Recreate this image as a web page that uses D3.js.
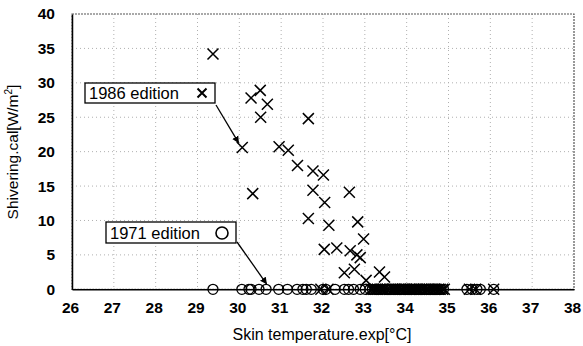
<!DOCTYPE html>
<html>
<head>
<meta charset="utf-8">
<script src="https://cdn.jsdelivr.net/npm/d3@7"></script>
<style>
  body { margin: 0; background: #fff; }
  text { font-family: "Liberation Sans", Arial, sans-serif; fill: #000; }
</style>
</head>
<body>
<script>
// 1986 edition (crosses)
var crossX = [29.37, 30.07, 30.28, 30.5, 30.67, 30.51, 31.65, 30.95, 31.17, 31.39,
              31.76, 32.01, 30.32, 31.76, 32.63, 32.04, 31.65, 32.14, 32.83, 32.97,
              32.03, 32.33, 32.65, 32.81, 32.89, 32.51, 32.75, 33.03, 33.35, 33.47,
              31.95, 32.12, 33.2, 33.3, 33.45, 33.6, 33.7, 33.8, 33.9, 34.0, 34.1, 34.2,
              34.3, 34.4, 34.5, 34.6, 34.7, 34.8, 34.9, 35.5, 35.65, 36.08,
              33.15, 33.25, 33.36, 33.41, 33.53, 33.66, 33.74, 33.86, 33.95, 34.06,
              34.16, 34.24, 34.36, 34.46, 34.54, 34.66, 34.76, 34.86];
var crossY = [34.2, 20.6, 27.8, 28.9, 26.9, 25.0, 24.8, 20.7, 20.2, 18.0,
              17.2, 16.6, 13.9, 14.4, 14.1, 12.6, 10.3, 9.3, 9.8, 7.3,
              5.8, 6.0, 5.6, 5.0, 4.6, 2.4, 2.9, 1.3, 2.5, 1.8,
              0, 0, 0, 0, 0, 0, 0, 0, 0, 0, 0, 0,
              0, 0, 0, 0, 0, 0, 0, 0, 0, 0,
              0, 0, 0, 0, 0, 0, 0, 0, 0, 0,
              0, 0, 0, 0, 0, 0, 0, 0];
// 1971 edition (circles), all at zero
var circleX = [29.37, 30.06, 30.23, 30.28, 30.47, 30.64, 30.94, 31.15, 31.38, 31.52,
               31.6, 31.72, 32.0, 32.07, 32.29, 32.51, 32.61, 32.73, 32.89, 33.01,
               33.12, 33.18, 33.25, 33.3, 33.37, 33.42, 33.5, 33.55, 33.62, 33.68,
               33.74, 33.8, 33.85, 33.92, 33.97, 34.03, 34.08, 34.13, 34.2, 34.26,
               34.31, 34.38, 34.44, 34.5, 34.57, 34.63, 34.7, 34.76, 34.82, 34.88,
               35.44, 35.56, 35.68, 35.76, 36.08];
var circleY = circleX.map(function() { return 0; });

var xTicks = [26, 27, 28, 29, 30, 31, 32, 33, 34, 35, 36, 37, 38];
var yTicks = [0, 5, 10, 15, 20, 25, 30, 35, 40];
var legendLabels = ["1986 edition", "1971 edition"];

var width = 583, height = 346;
var plotL = 72, plotR = 574, plotT = 14, plotB = 289.3;

var x = d3.scaleLinear().domain([26, 38]).range([plotL, plotR]);
var y = d3.scaleLinear().domain([0, 40]).range([plotB, plotT]);

var svg = d3.select("body").append("svg")
    .attr("width", width)
    .attr("height", height);

var defs = svg.append("defs");
defs.append("marker")
    .attr("id", "arrow")
    .attr("viewBox", "0 0 10 10")
    .attr("refX", 9).attr("refY", 5)
    .attr("markerWidth", 7).attr("markerHeight", 8)
    .attr("markerUnits", "userSpaceOnUse")
    .attr("orient", "auto")
    .append("path").attr("d", "M0,0 L10,5 L0,10 z").attr("fill", "#000");

// grid
svg.append("g").selectAll("line").data(xTicks.slice(1, -1)).enter()
    .append("line")
    .attr("x1", function(d) { return x(d); }).attr("x2", function(d) { return x(d); })
    .attr("y1", plotT).attr("y2", plotB)
    .attr("stroke", "#b0b0b0").attr("stroke-width", 1).attr("stroke-dasharray", "1,3");
svg.append("g").selectAll("line").data(yTicks.slice(1, -1)).enter()
    .append("line")
    .attr("y1", function(d) { return y(d); }).attr("y2", function(d) { return y(d); })
    .attr("x1", plotL).attr("x2", plotR)
    .attr("stroke", "#b0b0b0").attr("stroke-width", 1).attr("stroke-dasharray", "1,3");

// frame (top/right dotted)
svg.append("rect")
    .attr("x", plotL).attr("y", plotT)
    .attr("width", plotR - plotL).attr("height", plotB - plotT)
    .attr("fill", "none").attr("stroke", "#555").attr("stroke-width", 1.2)
    .attr("stroke-dasharray", "2,1");

// axes
var xAxis = d3.axisBottom(x).tickValues(xTicks).tickSize(0).tickPadding(13);
var yAxis = d3.axisLeft(y).tickValues(yTicks).tickSize(0).tickPadding(17);

var gx = svg.append("g").attr("transform", "translate(0," + plotB + ")").call(xAxis);
var gy = svg.append("g").attr("transform", "translate(" + plotL + ",0)").call(yAxis);
[gx, gy].forEach(function(g) {
    g.select(".domain").attr("stroke", "#000").attr("stroke-width", 1.5);
    g.selectAll(".tick text")
        .style("font-family", "'Liberation Sans', Arial, sans-serif")
        .style("font-size", "15.5px").style("font-weight", "bold").attr("fill", "#000");
});
gx.selectAll(".tick text").attr("dx", "-2");

// axis titles
svg.append("text")
    .attr("x", 322).attr("y", 340)
    .attr("text-anchor", "middle")
    .style("font-size", "16px")
    .text("Skin temperature.exp[°C]");

var yt = svg.append("text")
    .attr("transform", "translate(18,152) rotate(-90)")
    .attr("text-anchor", "middle")
    .style("font-size", "15.5px");
yt.append("tspan").text("Shivering.cal[W/m");
yt.append("tspan").attr("dy", "-6").style("font-size", "10px").text("2");
yt.append("tspan").attr("dy", "6").text("]");

// markers
function crossPath(cx, cy, s) {
    return "M" + (cx - s) + "," + (cy - s) + "L" + (cx + s) + "," + (cy + s) +
           "M" + (cx - s) + "," + (cy + s) + "L" + (cx + s) + "," + (cy - s);
}

svg.append("g").selectAll("circle").data(circleX).enter()
    .append("circle")
    .attr("cx", function(d) { return x(d); })
    .attr("cy", function(d, i) { return y(circleY[i]); })
    .attr("r", 5)
    .attr("fill", "none").attr("stroke", "#000").attr("stroke-width", 1.3);

svg.append("g").selectAll("path").data(crossX).enter()
    .append("path")
    .attr("d", function(d, i) { return crossPath(x(d), y(crossY[i]), 5.5); })
    .attr("stroke", "#000").attr("stroke-width", 1.5).attr("fill", "none");

// legend boxes with arrows
var leg1 = svg.append("g");
leg1.append("rect").attr("x", 85).attr("y", 83).attr("width", 130).attr("height", 20)
    .attr("fill", "#fff").attr("stroke", "#000").attr("stroke-width", 1.3);
leg1.append("text").attr("x", 89).attr("y", 99).style("font-size", "16.5px").text(legendLabels[0]);
leg1.append("path").attr("d", crossPath(202, 93, 4.5)).attr("stroke", "#000").attr("stroke-width", 2);
svg.append("line").attr("x1", 216).attr("y1", 105).attr("x2", x(29.98)).attr("y2", y(21.3))
    .attr("stroke", "#000").attr("stroke-width", 1.3).attr("marker-end", "url(#arrow)");

var leg2 = svg.append("g");
leg2.append("rect").attr("x", 106).attr("y", 222).attr("width", 130).attr("height", 21)
    .attr("fill", "#fff").attr("stroke", "#000").attr("stroke-width", 1.3);
leg2.append("text").attr("x", 110).attr("y", 238.5).style("font-size", "16.5px").text(legendLabels[1]);
leg2.append("circle").attr("cx", 222).attr("cy", 233).attr("r", 6)
    .attr("fill", "none").attr("stroke", "#000").attr("stroke-width", 1.6);
svg.append("line").attr("x1", 237).attr("y1", 242).attr("x2", x(30.65)).attr("y2", y(0.8))
    .attr("stroke", "#000").attr("stroke-width", 1.3).attr("marker-end", "url(#arrow)");
</script>
</body>
</html>
